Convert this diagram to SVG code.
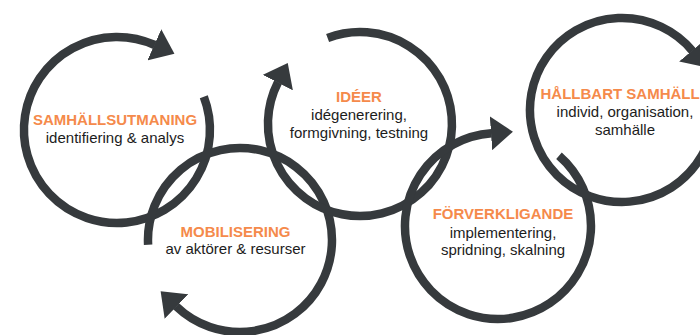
<svg xmlns="http://www.w3.org/2000/svg" width="700" height="335" viewBox="0 0 700 335">
  <defs>
    <marker id="head" markerUnits="userSpaceOnUse" viewBox="0 0 22 34" markerWidth="22" markerHeight="34" refX="0.5" refY="17" orient="auto">
      <path d="M0,0 L22,17 L0,34 Z" fill="#363a3d"/>
    </marker>
    <style>
      .ring { fill: none; stroke: #363a3d; stroke-width: 8.5; marker-end: url(#head); }
      .title { font-family: "Liberation Sans", Arial, sans-serif; font-size: 15px; font-weight: bold; fill: #f58a4b; text-anchor: middle; }
      .sub { font-family: "Liberation Sans", Arial, sans-serif; font-size: 15px; fill: #1c1c1c; text-anchor: middle; }
    </style>
  </defs>
  <rect width="700" height="335" fill="#ffffff"/>

  <!-- stage 1: societal challenge -->
  <g id="samhallsutmaning">
    <path class="ring" d="M203.8,96.7 A93,93 0 1 1 154.8,45.0"/>
    <text class="title" x="115" y="125">SAMHÄLLSUTMANING</text>
    <text class="sub" x="115" y="143">identifiering &amp; analys</text>
  </g>

  <!-- stage 2: mobilisation -->
  <g id="mobilisering">
    <path class="ring" d="M148.1,244.8 A92,92 0 1 1 176.1,306.2"/>
    <text class="title" x="235.5" y="237">MOBILISERING</text>
    <text class="sub" x="235.5" y="254">av aktörer &amp; resurser</text>
  </g>

  <!-- stage 3: ideas -->
  <g id="ideer">
    <path class="ring" d="M327.6,37.9 A92,92 0 1 1 278,82.2"/>
    <text class="title" x="359" y="102">IDÉER</text>
    <text class="sub" x="359" y="120">idégenerering,</text>
    <text class="sub" x="359" y="138">formgivning, testning</text>
  </g>

  <!-- stage 4: realisation -->
  <g id="forverkligande">
    <path class="ring" d="M559,155.8 A93,93 0 1 1 491.5,133.2"/>
    <text class="title" x="503" y="219">FÖRVERKLIGANDE</text>
    <text class="sub" x="503" y="237.5">implementering,</text>
    <text class="sub" x="503" y="255">spridning, skalning</text>
  </g>

  <!-- stage 5: sustainable society -->
  <g id="hallbart-samhalle">
    <path class="ring" d="M713.6,118 A92,92 0 1 1 692.5,50.9"/>
    <text class="title" x="540.5" y="99" style="text-anchor:start">HÅLLBART SAMHÄLL</text>
    <text class="sub" x="625" y="117">individ, organisation,</text>
    <text class="sub" x="625" y="135">samhälle</text>
  </g>

  <g id="connectors"/>
</svg>
